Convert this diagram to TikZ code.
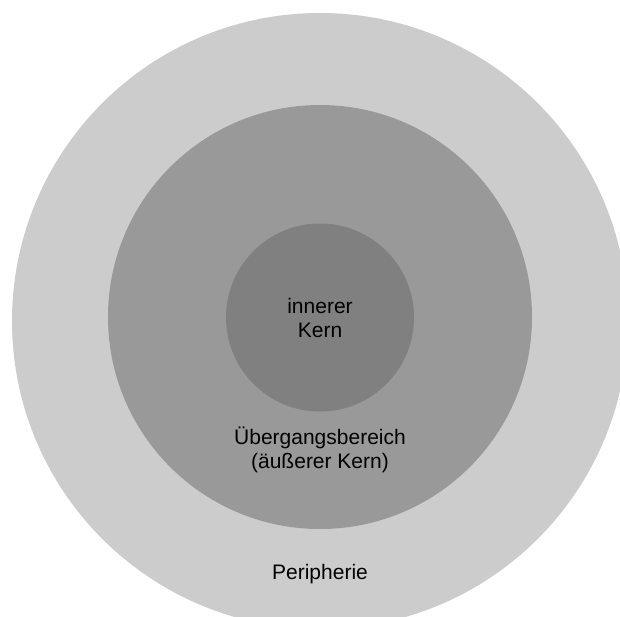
\documentclass[tikz,border=0pt]{standalone}
\usepackage{fontspec}
\setmainfont{Liberation Sans}
\usepackage{tikz}
\usetikzlibrary{positioning}

\definecolor{periph}{HTML}{CCCCCC}
\definecolor{transit}{HTML}{999999}
\definecolor{core}{HTML}{808080}

\tikzset{
	zone/.style={circle, inner sep=0pt, draw=none},
	zonelabel/.style={align=center, font=\fontsize{21}{24}\selectfont, text=black, inner sep=0pt}
}

\begin{document}
\begin{tikzpicture}[x=1pt, y=-1pt]
	\useasboundingbox (0,0) rectangle (620,616);
	\clip (0,0) rectangle (620,616);
	
	\node[zone, fill=periph, minimum size=616pt] (outer) at (320,321) {};
	\node[zone, fill=transit, minimum size=424pt] (middle) at (320,317) {};
	\node[zone, fill=core, minimum size=188pt] (inner) at (320,317.5) {};
	
	\node[zonelabel] (innerlbl) at (inner.center) {innerer\\Kern};
	\node[zonelabel, below=15pt of inner.south] (middlelbl) {Übergangsbereich\\(äußerer Kern)};
	\node[zonelabel] (outerlbl) at (320,574) {Peripherie};
\end{tikzpicture}
\end{document}
